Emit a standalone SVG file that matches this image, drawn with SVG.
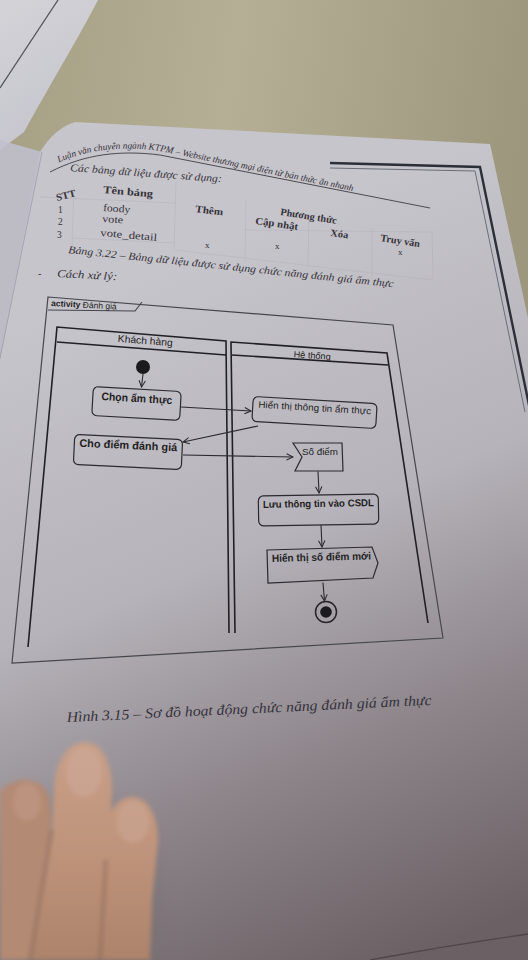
<svg xmlns="http://www.w3.org/2000/svg" width="528" height="960" viewBox="0 0 528 960">
  <defs>
    <linearGradient id="wood" x1="0" y1="0" x2="528" y2="80" gradientUnits="userSpaceOnUse">
      <stop offset="0" stop-color="#a59f84"/>
      <stop offset="0.45" stop-color="#b5af95"/>
      <stop offset="1" stop-color="#9d977d"/>
    </linearGradient>
    <linearGradient id="paper" x1="200" y1="250" x2="480" y2="930" gradientUnits="userSpaceOnUse">
      <stop offset="0" stop-color="#c6c5cb"/>
      <stop offset="0.4" stop-color="#b6b3ba"/>
      <stop offset="0.7" stop-color="#8d858a"/>
      <stop offset="1" stop-color="#6b6165"/>
    </linearGradient>
    <linearGradient id="sheet" x1="0" y1="0" x2="90" y2="140" gradientUnits="userSpaceOnUse">
      <stop offset="0" stop-color="#d3d3d8"/>
      <stop offset="1" stop-color="#c4c3cc"/>
    </linearGradient>
    <linearGradient id="skin" x1="0" y1="740" x2="0" y2="960" gradientUnits="userSpaceOnUse">
      <stop offset="0" stop-color="#c89f88"/>
      <stop offset="0.5" stop-color="#bf947b"/>
      <stop offset="1" stop-color="#ad836b"/>
    </linearGradient>
    <filter id="soft" x="-20%" y="-20%" width="140%" height="140%">
      <feGaussianBlur stdDeviation="2.2"/>
    </filter>
    <filter id="haze" x="-50%" y="-50%" width="200%" height="200%">
      <feGaussianBlur stdDeviation="10"/>
    </filter>
    <marker id="open" viewBox="0 0 10 10" refX="9" refY="5" markerWidth="8" markerHeight="8" markerUnits="userSpaceOnUse" orient="auto">
      <path d="M1,1 L9,5 L1,9" fill="none" stroke="#2a2a30" stroke-width="1.3"/>
    </marker>
  </defs>
  <style>
    .print { font-family: "Liberation Serif", "Times New Roman", serif; fill: #35323a; }
    .it { font-style: italic; }
    .b { font-weight: bold; }
    .lab { font-family: "Liberation Sans", Arial, sans-serif; fill: #1f1f24; }
    .frame { fill: none; stroke: #46464d; stroke-width: 1.2; }
    .lane { fill: none; stroke: #202026; stroke-width: 1.6; }
    .box { fill: none; stroke: #2a2a30; stroke-width: 1.2; }
    .edge { fill: none; stroke: #2a2a30; stroke-width: 1.1; marker-end: url(#open); }
    .grid { fill: none; stroke: #a9a8af; stroke-width: 0.6; opacity: 0.55; }
  </style>

  <!-- desk, loose sheet and the open page -->
  <g id="scene">
    <rect width="528" height="960" fill="url(#wood)"/>
    <path d="M0,0 L98,0 C80,35 50,85 24,132 L0,150 Z" fill="url(#sheet)"/>
    <path d="M58,0 L0,88" stroke="#55555e" stroke-width="1.3"/>
    <path d="M75,122 L490,144 L528,318 L528,960 L0,960 L0,360 L40,152 Q55,128 75,122 Z" fill="url(#paper)"/>
    <path d="M0,140 L42,152 L0,358 Z" fill="#c1bfcf" opacity="0.85"/>
    <path d="M42,152 L0,358" stroke="#a6a4b2" stroke-width="1"/>
    <path d="M370,960 Q450,945 528,934" fill="none" stroke="#4f464b" stroke-width="1.3"/>
    <!-- printed page border, top right -->
    <path d="M330,163 L480,167 L530,410" fill="none" stroke="#2b2f37" stroke-width="2.4"/>
    <path d="M330,168 L475,171 L525,412" fill="none" stroke="#6a6e78" stroke-width="1"/>
  </g>

  <!-- running header, table and notes above the figure -->
  <g id="page-text">
    <path id="hdr" d="M48,168 C80,150 120,145 160,151 L400,201" fill="none"/>
    <text class="print it" font-size="9.3"><textPath href="#hdr" startOffset="12">Luận văn chuyên ngành KTPM – Website thương mại điện tử bán thức ăn nhanh</textPath></text>
    <path d="M50,172 C85,154 120,150 160,155 L430,208" fill="none" stroke="#3f3d45" stroke-width="0.9"/>

    <text class="print it" font-size="10.5" transform="translate(70,171) rotate(4.2)" textLength="152" lengthAdjust="spacingAndGlyphs">Các bảng dữ liệu được sử dụng:</text>

    <g class="grid">
      <path d="M40,197 L175,203"/>
      <path d="M73,238 L175,243"/>
      <path d="M74,187 L72,246"/>
      <path d="M176,182 L174,250"/>
      <path d="M246,200 L245,262"/>
      <path d="M309,214 L308,268"/>
      <path d="M372,228 L372,278"/>
      <path d="M432,230 L433,280"/>
      <path d="M245,230 L432,232"/>
      <path d="M175,250 L432,280"/>
    </g>

    <text class="print b" font-size="10" transform="translate(57,201) rotate(-14)" textLength="20" lengthAdjust="spacingAndGlyphs">STT</text>
    <text class="print" font-size="9.5" x="58" y="213">1</text>
    <text class="print" font-size="9.5" x="58" y="225">2</text>
    <text class="print" font-size="9.5" x="57" y="238">3</text>
    <text class="print b" font-size="10.5" transform="translate(103,193) rotate(5)" textLength="50" lengthAdjust="spacingAndGlyphs">Tên bảng</text>
    <text class="print" font-size="10.5" transform="translate(103,211) rotate(4)" textLength="27" lengthAdjust="spacingAndGlyphs">foody</text>
    <text class="print" font-size="10.5" transform="translate(102,222) rotate(4)" textLength="21" lengthAdjust="spacingAndGlyphs">vote</text>
    <text class="print" font-size="10.5" transform="translate(100,236) rotate(5)" textLength="57" lengthAdjust="spacingAndGlyphs">vote_detail</text>
    <text class="print b" font-size="10" transform="translate(195,212) rotate(7)" textLength="28" lengthAdjust="spacingAndGlyphs">Thêm</text>
    <text class="print b" font-size="10" transform="translate(280,215) rotate(9)" textLength="57" lengthAdjust="spacingAndGlyphs">Phương thức</text>
    <text class="print b" font-size="10" transform="translate(255,224) rotate(8)" textLength="43" lengthAdjust="spacingAndGlyphs">Cập nhật</text>
    <text class="print b" font-size="10" transform="translate(330,236) rotate(8)" textLength="18" lengthAdjust="spacingAndGlyphs">Xóa</text>
    <text class="print b" font-size="10" transform="translate(380,241) rotate(9)" textLength="40" lengthAdjust="spacingAndGlyphs">Truy vấn</text>
    <text class="print" font-size="9" x="205" y="248">x</text>
    <text class="print" font-size="9" x="275" y="249">x</text>
    <text class="print" font-size="9" x="398" y="255">x</text>

    <text class="print it" font-size="10.5" transform="translate(68,253) rotate(6)" textLength="327" lengthAdjust="spacingAndGlyphs">Bảng 3.22 – Bảng dữ liệu được sử dụng chức năng đánh giá ẩm thực</text>
    <text class="print" font-size="10" x="38" y="277">-</text>
    <text class="print it" font-size="11" transform="translate(57,277) rotate(3)" textLength="60" lengthAdjust="spacingAndGlyphs">Cách xử lý:</text>
  </g>

  <!-- activity frame with its name tab -->
  <g id="frame">
    <path class="frame" d="M48,297 L393,325 L443,638 L12,663 Z"/>
    <path class="frame" d="M48,310 L135,311 L142,302"/>
    <text class="lab" font-size="8.5" transform="translate(51,306) rotate(3)"><tspan font-weight="bold">activity</tspan> Đánh giá</text>
  </g>

  <!-- swimlanes -->
  <g id="lane-khach-hang">
    <path class="lane" d="M28,647 L57,327 L226,341 L229,633"/>
    <path class="lane" d="M57,342 L226,355"/>
    <text class="lab" font-size="10" text-anchor="middle" transform="translate(145,344) rotate(4.5)" textLength="55" lengthAdjust="spacingAndGlyphs">Khách hàng</text>
  </g>
  <g id="lane-he-thong">
    <path class="lane" d="M235,633 L231,342 L387,353 L428,623"/>
    <path class="lane" d="M232,355 L388,365"/>
    <text class="lab" font-size="9" text-anchor="middle" transform="translate(312,358.5) rotate(4)" textLength="37" lengthAdjust="spacingAndGlyphs">Hệ thống</text>
  </g>

  <!-- nodes -->
  <g id="start">
    <circle cx="143" cy="367" r="7" fill="#1a1a1f"/>
  </g>
  <g id="chon-am-thuc" transform="translate(136.5,403.5) rotate(3.3)">
    <rect class="box" x="-44" y="-14.5" width="88" height="29" rx="5"/>
    <text class="lab" font-size="11" font-weight="bold" x="0" y="-1.5" text-anchor="middle" textLength="71" lengthAdjust="spacingAndGlyphs">Chọn ẩm thực</text>
  </g>
  <g id="hien-thi-thong-tin" transform="translate(314.5,412.5) rotate(3.3)">
    <rect class="box" x="-62" y="-12.5" width="124" height="25" rx="5"/>
    <text class="lab" font-size="9.5" x="0" y="-1.5" text-anchor="middle" textLength="113" lengthAdjust="spacingAndGlyphs">Hiển thị thông tin ẩm thực</text>
  </g>
  <g id="cho-diem-danh-gia" transform="translate(128,452) rotate(2.7)">
    <rect class="box" x="-54" y="-15" width="108" height="30" rx="5"/>
    <text class="lab" font-size="11" font-weight="bold" x="0" y="-3" text-anchor="middle" textLength="98" lengthAdjust="spacingAndGlyphs">Cho điểm đánh giá</text>
  </g>
  <g id="so-diem">
    <path class="box" d="M293,443 L342,443 L343,471 L295,471 L302,457 Z"/>
    <text class="lab" font-size="9.5" x="320" y="455" text-anchor="middle" textLength="36" lengthAdjust="spacingAndGlyphs">Số điểm</text>
  </g>
  <g id="luu-csdl" transform="translate(318.5,510) rotate(-1)">
    <rect class="box" x="-60" y="-15" width="120" height="30" rx="5"/>
    <text class="lab" font-size="10" font-weight="bold" x="0" y="-3" text-anchor="middle" textLength="111" lengthAdjust="spacingAndGlyphs">Lưu thông tin vào CSDL</text>
  </g>
  <g id="hien-thi-so-diem-moi">
    <path class="box" d="M267,550 L372,547 L378,563 L373,578 L268,583 Z"/>
    <text class="lab" font-size="10.5" font-weight="bold" transform="translate(272,562) rotate(-1.5)" textLength="99" lengthAdjust="spacingAndGlyphs">Hiển thị số điểm mới</text>
  </g>
  <g id="end">
    <circle cx="326" cy="612" r="10.5" fill="none" stroke="#24242a" stroke-width="1.5"/>
    <circle cx="326" cy="612" r="5.8" fill="#1a1a1f"/>
  </g>

  <!-- control flows -->
  <g id="connectors">
    <path class="edge" d="M143,374 L141.5,387"/>
    <path class="edge" d="M181,407 L251,411"/>
    <path class="edge" d="M258,426 L183,442"/>
    <path class="edge" d="M183,455 L293,457"/>
    <path class="edge" d="M318,471.5 L319,493"/>
    <path class="edge" d="M321,525 L322,547"/>
    <path class="edge" d="M323,582.5 L324.5,601"/>
  </g>

  <text id="caption" class="print it" font-size="14.5" transform="translate(67,722) rotate(-2.7)" textLength="365" lengthAdjust="spacingAndGlyphs">Hình 3.15 – Sơ đồ hoạt động chức năng đánh giá ẩm thực</text>

  <!-- fingers resting on the page -->
  <g id="hand">
    <ellipse cx="80" cy="900" rx="80" ry="110" fill="#6e6469" opacity="0.2" filter="url(#haze)"/>
    <g filter="url(#soft)">
      <path d="M0,792 C10,778 35,774 46,790 C53,806 51,840 46,870 L33,960 L0,960 Z" fill="#b38a73"/>
      <path d="M30,960 L52,830 L54,790 C55,760 68,743 84,742 C102,742 111,760 112,790 L110,830 L103,960 Z" fill="url(#skin)"/>
      <path d="M100,960 L106,860 L107,830 C108,810 118,797 132,797 C148,797 158,815 158,840 L152,900 L150,960 Z" fill="url(#skin)"/>
      <ellipse cx="84" cy="772" rx="18" ry="25" fill="#d0ac9c" opacity="0.55"/>
      <ellipse cx="133" cy="822" rx="16" ry="21" fill="#cda99a" opacity="0.5"/>
      <ellipse cx="27" cy="802" rx="14" ry="19" fill="#c39c89" opacity="0.5"/>
      <path d="M52,830 L30,960" stroke="#86685a" stroke-width="4" opacity="0.5"/>
      <path d="M106,860 L100,960" stroke="#86685a" stroke-width="4" opacity="0.5"/>
    </g>
  </g>
</svg>
